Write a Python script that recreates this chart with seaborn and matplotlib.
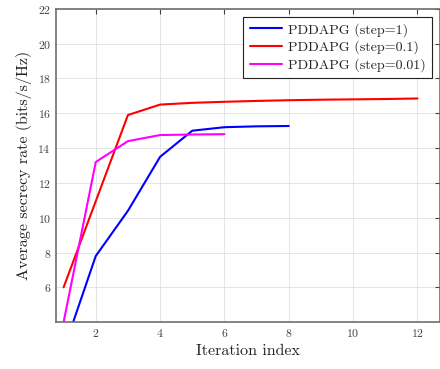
import matplotlib
matplotlib.use("Agg")
import matplotlib.pyplot as plt
import seaborn as sns
import pandas as pd

x_step1 = [1, 2, 3, 4, 5, 6, 7, 8]
y_step1 = [2.4, 7.8, 10.4, 13.5, 15.0, 15.2, 15.25, 15.27]
x_step01 = [1, 2, 3, 4, 5, 6, 7, 8, 9, 10, 11, 12]
y_step01 = [6.0, 10.95, 15.9, 16.5, 16.6, 16.66, 16.71, 16.75, 16.78, 16.8, 16.82, 16.85]
x_step001 = [1, 2, 3, 4, 5, 6]
y_step001 = [4.0, 13.2, 14.4, 14.75, 14.78, 14.8]
labels = ["PDDAPG (step=1)", "PDDAPG (step=0.1)", "PDDAPG (step=0.01)"]
colors = ["#0000ff", "#ff0000", "#ff00ff"]

df = pd.concat([
    pd.DataFrame({"x": x_step1, "y": y_step1, "s": labels[0]}),
    pd.DataFrame({"x": x_step01, "y": y_step01, "s": labels[1]}),
    pd.DataFrame({"x": x_step001, "y": y_step001, "s": labels[2]}),
])

sns.set_style("white")
plt.rcParams["font.family"] = ["cmr10", "DejaVu Serif"]
plt.rcParams["mathtext.fontset"] = "cm"
plt.rcParams["axes.formatter.use_mathtext"] = True

fig = plt.figure(figsize=(4.4, 3.69), dpi=100)
ax = fig.add_axes([0.127, 0.127, 0.873, 0.849])
sns.lineplot(data=df, x="x", y="y", hue="s", palette=colors, hue_order=labels,
             linewidth=1.5, ax=ax, sort=False)
ax.set_xlim(0.76, 12.7)
ax.set_ylim(4, 22)
ax.set_xticks([2, 4, 6, 8, 10, 12])
ax.set_yticks([6, 8, 10, 12, 14, 16, 18, 20, 22])
ax.grid(True, color="#e0e0e0", linewidth=0.6)
ax.tick_params(direction="in", top=True, right=True, labelsize=8.5, colors="#404040",
               length=3.5, width=0.8)
ax.tick_params(axis="both", labelcolor="#404040")
for sp in ax.spines.values():
    sp.set_color("#6e6e6e")
    sp.set_linewidth(1.2)
ax.set_xlabel("Iteration index", fontsize=11.5, color="#202020")
ax.set_ylabel("Average secrecy rate (bits/s/Hz)", fontsize=11.5, color="#202020")
leg = ax.legend(loc="upper right", fontsize=10.1, frameon=True, fancybox=False,
                edgecolor="#202020", framealpha=1, borderaxespad=0.55,
                handlelength=2.3, labelspacing=0.28, borderpad=0.45, handletextpad=0.45)
leg.get_frame().set_linewidth(0.8)
fig.savefig("out.png", dpi=100)
